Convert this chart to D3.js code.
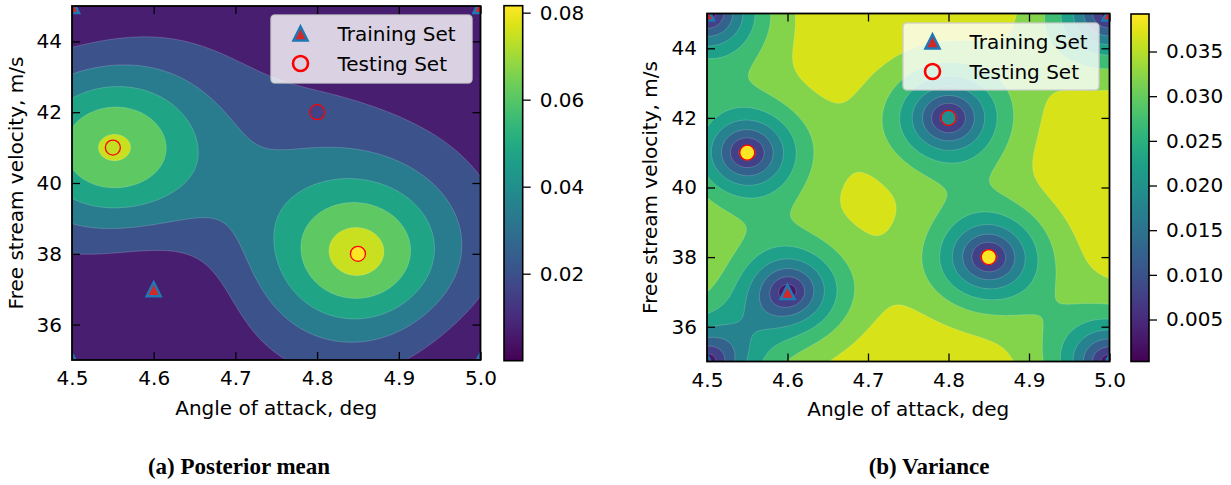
<!DOCTYPE html>
<html>
<head>
<meta charset="utf-8">
<script src="https://cdn.jsdelivr.net/npm/d3@7"></script>
<style>
  body { margin: 0; background: #fff; }
  text { font-family: "DejaVu Sans", sans-serif; }
</style>
</head>
<body>
<svg id="chart" width="1231" height="485"></svg>
<script>
// observed samples the surrogate was fitted on (angle, velocity, response)
var sampleAngle = [4.5, 5.0, 4.5, 5.0, 4.6, 4.55, 4.85, 4.8];
var sampleSpeed = [45, 45, 35, 35, 37, 41, 38, 42];
var sampleValue = [0.0, 0.0, 0.0, 0.0, 0.0, 0.070, 0.074, 0.018];

// GP hyperparameters (Matern 5/2, inputs scaled to [0,1])
var lengthScale = 0.205;
var signalStd = 0.0395;

// scatter markers
var trainAngle = [4.5, 5.0, 4.5, 5.0, 4.6];
var trainSpeed = [45, 45, 35, 35, 37];
var testAngle = [4.55, 4.85, 4.8];
var testSpeed = [41, 38, 42];
var testColourMean = [0.074, 0.0816, 0.016];
var testColourVar = [0.0392, 0.0392, 0.0195];

// contour levels and colorbar ticks
var meanLevels = [0, 0.0136, 0.0272, 0.0408, 0.0544, 0.068, 0.0816];
var varLevels = [0.0003, 0.00516, 0.01003, 0.01489, 0.01975, 0.02461, 0.02948, 0.03434, 0.0392];
var meanTicks = [0.02, 0.04, 0.06, 0.08];
var varTicks = [0.005, 0.010, 0.015, 0.020, 0.025, 0.030, 0.035];
var angleTicks = [4.5, 4.6, 4.7, 4.8, 4.9, 5.0];
var speedTicks = [36, 38, 40, 42, 44];

var svg = d3.select("#chart");

// --- Gaussian process fit ---
function norm(a, s) { return [(a - 4.5) / 0.5, (s - 35) / 10]; }
var pts = sampleAngle.map(function(a, i) { return norm(a, sampleSpeed[i]); });
function kern(p, q) {
    var du = p[0] - q[0], dv = p[1] - q[1];
    var t = Math.sqrt(5) * Math.sqrt(du * du + dv * dv) / lengthScale;
    return signalStd * signalStd * (1 + t + t * t / 3) * Math.exp(-t);
}
var n = pts.length;
var K = pts.map(function(p, i) { return pts.map(function(q, j) { return kern(p, q) + (i === j ? 1e-12 : 0); }); });
// invert K (Gauss-Jordan)
var A = K.map(function(r, i) { return r.concat(K.map(function(_, j) { return i === j ? 1 : 0; })); });
for (var c = 0; c < n; c++) {
    var piv = c;
    for (var r = c + 1; r < n; r++) if (Math.abs(A[r][c]) > Math.abs(A[piv][c])) piv = r;
    var tmp = A[c]; A[c] = A[piv]; A[piv] = tmp;
    var d = A[c][c];
    for (var k = 0; k < 2 * n; k++) A[c][k] /= d;
    for (var r2 = 0; r2 < n; r2++) {
        if (r2 === c) continue;
        var f = A[r2][c];
        for (var k2 = 0; k2 < 2 * n; k2++) A[r2][k2] -= f * A[c][k2];
    }
}
var Kinv = A.map(function(r) { return r.slice(n); });
var alpha = Kinv.map(function(r) { return d3.sum(r, function(v, j) { return v * sampleValue[j]; }); });

function predict(a, s) {
    var p = norm(a, s);
    var ks = pts.map(function(q) { return kern(p, q); });
    var mu = d3.sum(ks, function(v, i) { return v * alpha[i]; });
    var red = 0;
    for (var i = 0; i < n; i++) for (var j = 0; j < n; j++) red += ks[i] * Kinv[i][j] * ks[j];
    var v = Math.max(signalStd * signalStd - red, 0);
    return [mu, Math.sqrt(v)];
}

var nx = 220, ny = 220;
var meanGrid = new Array(nx * ny), varGrid = new Array(nx * ny);
for (var j = 0; j < ny; j++) {
    for (var i = 0; i < nx; i++) {
        var pr = predict(4.5 + (i + 0.5) / nx * 0.5, 35 + (j + 0.5) / ny * 10);
        meanGrid[j * nx + i] = pr[0];
        varGrid[j * nx + i] = pr[1];
    }
}

var panels = [
    { id: "m", left: 72, right: 480.5, top: 6, bottom: 360,
      bar: { x: 504, w: 18.7, top: 5.7, bottom: 360.7 }, domain: [0, 0.0816],
      ticks: meanTicks, fmt: ".2f", levels: meanLevels, grid: meanGrid,
      legend: { x: 271, y: 15, w: 201, h: 68 }, testColour: testColourMean,
      caption: "(a) Posterior mean", capX: 239, labelX: 22.5, xlabY: 415 },
    { id: "v", left: 707, right: 1109.5, top: 13.5, bottom: 361.5,
      bar: { x: 1131, w: 18, top: 14, bottom: 361.5 }, domain: [0.0003, 0.0392],
      ticks: varTicks, fmt: ".3f", levels: varLevels, grid: varGrid,
      legend: { x: 903, y: 23, w: 196, h: 67 }, testColour: testColourVar,
      caption: "(b) Variance", capX: 929, labelX: 656.5, xlabY: 416 }
];

function triPath(h) { return "M0," + (-h) + "L" + h + "," + h + "L" + (-h) + "," + h + "Z"; }

panels.forEach(function(p) {
    var x = d3.scaleLinear().domain([4.5, 5.0]).range([p.left, p.right]);
    var y = d3.scaleLinear().domain([35, 45]).range([p.bottom, p.top]);
    var g = svg.append("g");

    g.append("clipPath").attr("id", "clip-" + p.id)
        .append("rect").attr("x", p.left).attr("y", p.top)
        .attr("width", p.right - p.left).attr("height", p.bottom - p.top);
    var plot = g.append("g").attr("clip-path", "url(#clip-" + p.id + ")");

    // filled contours
    var nb = p.levels.length - 1;
    var bandColour = function(k) { return d3.interpolateViridis((k + 0.5) / nb); };
    plot.append("rect").attr("x", p.left).attr("y", p.top)
        .attr("width", p.right - p.left).attr("height", p.bottom - p.top)
        .attr("fill", bandColour(0));
    var contours = d3.contours().size([nx, ny]).thresholds(p.levels.slice(1, -1))(p.grid);
    var proj = d3.geoTransform({ point: function(gx, gy) {
        this.stream.point(x(4.5 + gx / nx * 0.5), y(35 + gy / ny * 10));
    } });
    plot.selectAll("path.band").data(contours).join("path")
        .attr("class", "band")
        .attr("d", d3.geoPath(proj))
        .attr("fill", function(d, i) { return bandColour(i + 1); })
        .attr("stroke", "#ffffff").attr("stroke-opacity", 0.3).attr("stroke-width", 0.6);

    // markers
    plot.selectAll("path.train").data(trainAngle).join("path")
        .attr("class", "train")
        .attr("transform", function(d, i) { return "translate(" + x(d) + "," + y(trainSpeed[i]) + ")"; })
        .attr("d", triPath(7))
        .attr("fill", "#d62728").attr("stroke", "#1f77b4").attr("stroke-width", 2.5)
        .attr("stroke-linejoin", "miter");
    var cs = d3.scaleLinear().domain(p.domain).range([0, 1]);
    plot.selectAll("circle.test").data(testAngle).join("circle")
        .attr("class", "test")
        .attr("cx", function(d) { return x(d); })
        .attr("cy", function(d, i) { return y(testSpeed[i]); })
        .attr("r", 7.5)
        .attr("fill", function(d, i) { return d3.interpolateViridis(cs(p.testColour[i])); })
        .attr("stroke", "#ff0000").attr("stroke-width", 1.3);

    // axes with inward ticks on all sides
    g.append("g").attr("transform", "translate(0," + p.bottom + ")")
        .call(d3.axisBottom(x).tickValues(angleTicks).tickFormat(d3.format(".1f"))
            .tickSizeInner(-8).tickSizeOuter(0).tickPadding(11));
    g.append("g").attr("transform", "translate(" + p.left + ",0)")
        .call(d3.axisLeft(y).tickValues(speedTicks).tickFormat(d3.format("d"))
            .tickSizeInner(-8).tickSizeOuter(0).tickPadding(10));
    g.append("g").attr("transform", "translate(0," + p.top + ")")
        .call(d3.axisTop(x).tickValues(angleTicks).tickFormat("").tickSizeInner(-8).tickSizeOuter(0));
    g.append("g").attr("transform", "translate(" + p.right + ",0)")
        .call(d3.axisRight(y).tickValues(speedTicks).tickFormat("").tickSizeInner(-8).tickSizeOuter(0));
    g.selectAll(".domain").remove();
    g.selectAll(".tick line").attr("stroke", "#000").attr("stroke-width", 1.3);
    g.selectAll(".tick text").attr("font-size", 20).attr("fill", "#000")
        .style("font-family", "'DejaVu Sans', sans-serif");
    g.append("rect").attr("x", p.left).attr("y", p.top)
        .attr("width", p.right - p.left).attr("height", p.bottom - p.top)
        .attr("fill", "none").attr("stroke", "#000").attr("stroke-width", 1.8);

    // axis labels
    g.append("text").attr("x", (p.left + p.right) / 2).attr("y", p.xlabY)
        .attr("text-anchor", "middle").attr("font-size", 20).text("Angle of attack, deg");
    g.append("text")
        .attr("transform", "translate(" + p.labelX + "," + (p.top + p.bottom) / 2 + ") rotate(-90)")
        .attr("text-anchor", "middle").attr("font-size", 20).text("Free stream velocity, m/s");

    // legend
    var L = p.legend;
    var lg = g.append("g");
    lg.append("rect").attr("x", L.x).attr("y", L.y).attr("width", L.w).attr("height", L.h)
        .attr("rx", 4).attr("fill", "#ffffff").attr("fill-opacity", 0.8)
        .attr("stroke", "#cccccc").attr("stroke-opacity", 0.8).attr("stroke-width", 1.6);
    lg.append("path").attr("transform", "translate(" + (L.x + 29.5) + "," + (L.y + 18.5) + ")")
        .attr("d", triPath(7)).attr("fill", "#d62728").attr("stroke", "#1f77b4").attr("stroke-width", 2.5);
    lg.append("circle").attr("cx", L.x + 29.5).attr("cy", L.y + 48.5).attr("r", 7.5)
        .attr("fill", "none").attr("stroke", "#ff0000").attr("stroke-width", 2.6);
    lg.append("text").attr("x", L.x + 66.5).attr("y", L.y + 25.5).attr("font-size", 20).text("Training Set");
    lg.append("text").attr("x", L.x + 66.5).attr("y", L.y + 55.5).attr("font-size", 20).text("Testing Set");

    // colorbar
    var B = p.bar;
    var gid = "grad-" + p.id;
    var grad = svg.append("defs").append("linearGradient").attr("id", gid)
        .attr("x1", 0).attr("y1", 1).attr("x2", 0).attr("y2", 0);
    d3.range(0, 1.0001, 0.05).forEach(function(t) {
        grad.append("stop").attr("offset", t).attr("stop-color", d3.interpolateViridis(t));
    });
    g.append("rect").attr("x", B.x).attr("y", B.top).attr("width", B.w).attr("height", B.bottom - B.top)
        .attr("fill", "url(#" + gid + ")").attr("stroke", "#000").attr("stroke-width", 1.6);
    var by = d3.scaleLinear().domain(p.domain).range([B.bottom, B.top]);
    var cb = g.append("g").attr("transform", "translate(" + (B.x + B.w) + ",0)")
        .call(d3.axisRight(by).tickValues(p.ticks).tickFormat(d3.format(p.fmt))
            .tickSizeInner(8).tickSizeOuter(0).tickPadding(9));
    cb.select(".domain").remove();
    cb.selectAll(".tick line").attr("stroke", "#000").attr("stroke-width", 1.3);
    cb.selectAll(".tick text").attr("font-size", 20).attr("fill", "#000")
        .style("font-family", "'DejaVu Sans', sans-serif");

    // caption
    svg.append("text").attr("x", p.capX).attr("y", 474).attr("text-anchor", "middle")
        .style("font-family", "'Liberation Serif', 'Times New Roman', serif")
        .attr("font-weight", "bold").attr("font-size", 23).text(p.caption);
});
</script>
</body>
</html>
